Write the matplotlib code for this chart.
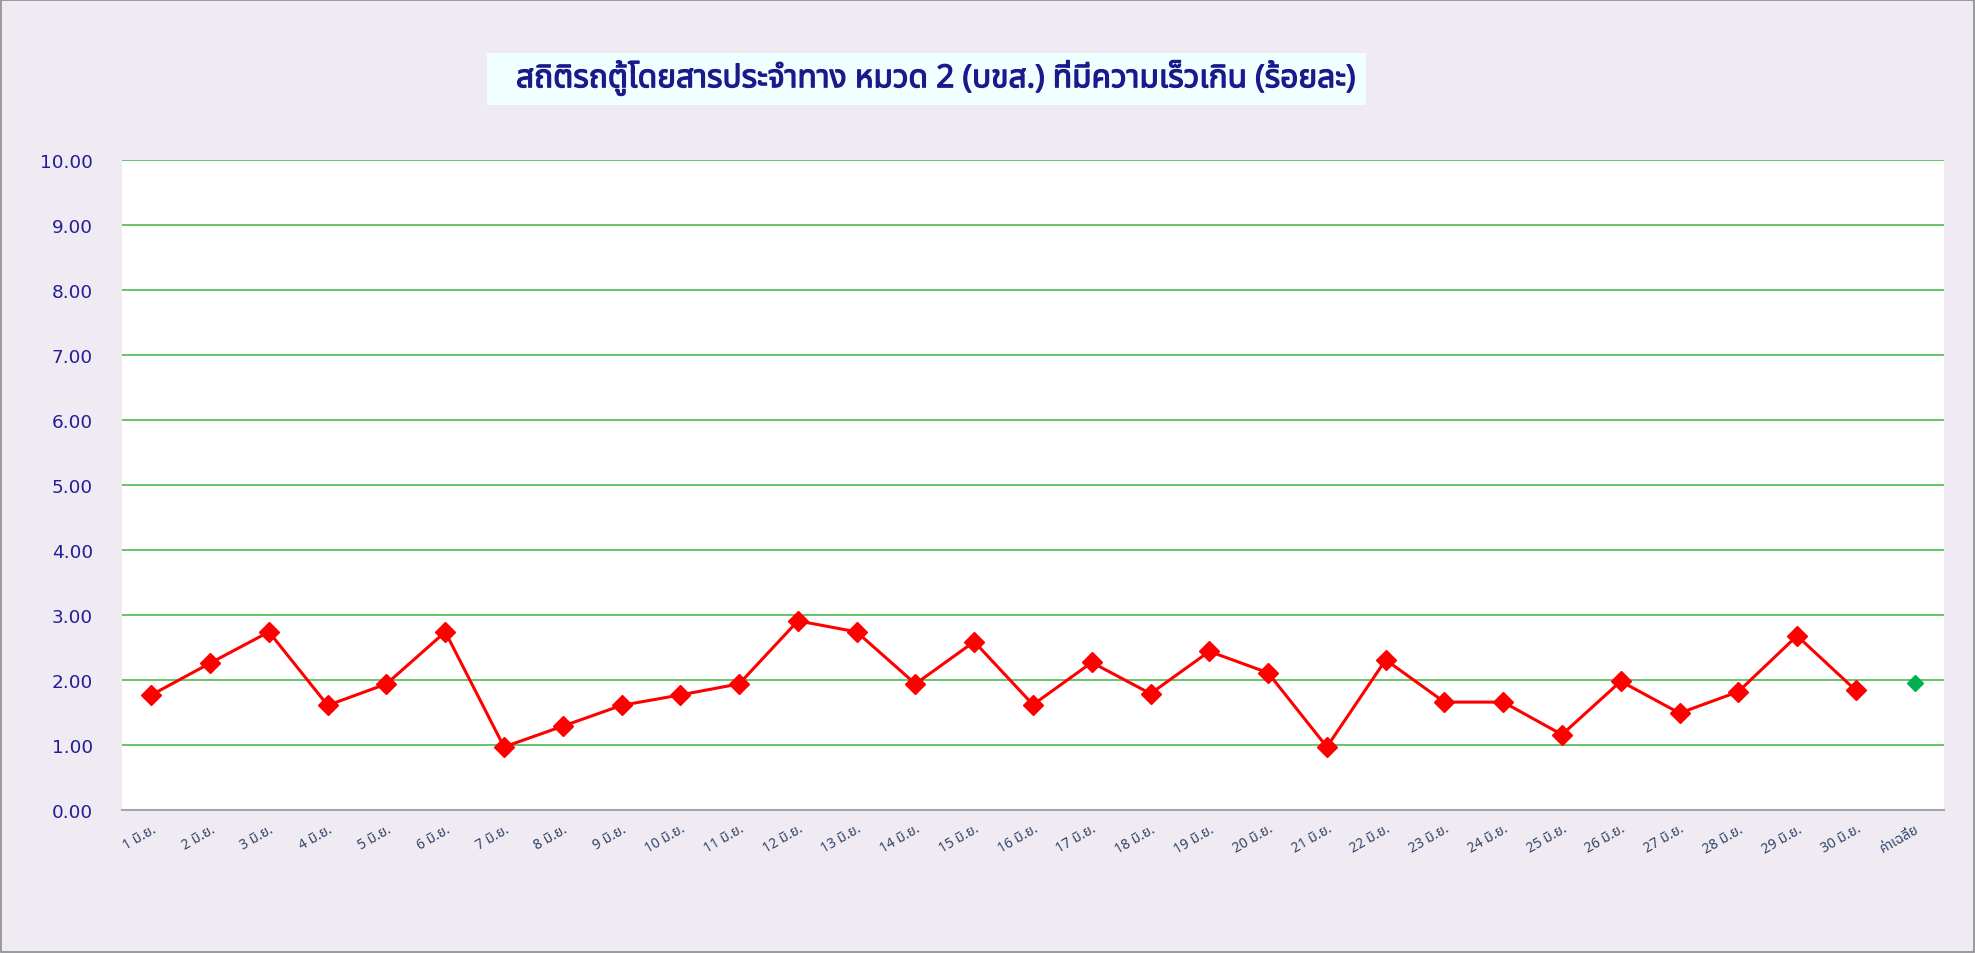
import matplotlib
matplotlib.use("Agg")
import matplotlib.pyplot as plt
import matplotlib.patheffects as pe
from matplotlib import font_manager
from matplotlib.ft2font import FT2Font
from matplotlib.patches import Rectangle

# ---- data -------------------------------------------------------------
days = [f"{d} มิ.ย." for d in range(1, 31)]
avg_label = "ค่าเฉลี่ย"
speeding_pct = [1.77, 2.26, 2.74, 1.61, 1.94, 2.74, 0.97, 1.29, 1.61, 1.77,
                1.94, 2.91, 2.74, 1.94, 2.59, 1.62, 2.27, 1.79, 2.44, 2.11,
                0.97, 2.31, 1.66, 1.66, 1.16, 1.98, 1.49, 1.82, 2.68, 1.84]
avg_pct = 1.95
y_ticks = [0, 1, 2, 3, 4, 5, 6, 7, 8, 9, 10]
title = "สถิติรถตู้โดยสารประจำทาง หมวด 2 (บขส.) ที่มีความเร็วเกิน (ร้อยละ)"


def thai_capable_font():
    preferred = ["Noto Sans Thai", "Noto Sans Thai UI", "Loma", "Tlwg Typo",
                 "Garuda", "Waree", "Umpush", "Kinnari", "Norasi", "Sawasdee",
                 "Noto Sans", "Noto Serif Thai"]
    found = {}
    for fe in font_manager.fontManager.ttflist:
        try:
            cmap = FT2Font(fe.fname).get_charmap()
        except Exception:
            continue
        if 0x0E01 in cmap and 0x0E34 in cmap:
            found.setdefault(fe.name, fe.fname)
    for name in preferred:
        if name in found:
            return name
    return next(iter(found), None)


thai = thai_capable_font()
thai_family = [thai, "DejaVu Sans"] if thai else ["DejaVu Sans"]

BG = "#F0EBF3"
W, H = 1975, 954
fig = plt.figure(figsize=(W / 100, H / 100), dpi=100, facecolor=BG)

# outer frame
fig.patches.append(Rectangle((0.0005, 0.001), 0.999, 0.998, transform=fig.transFigure,
                             fill=False, edgecolor="#8C8C8C", linewidth=1.2))

left, right, top, bottom = 122, 1944, 161, 811
ax = fig.add_axes([left / W, 1 - bottom / H, (right - left) / W, (bottom - top) / H])
ax.set_facecolor("white")

n = len(days)
x = list(range(n))
ax.plot(x, speeding_pct, color="#FF0000", linewidth=2.2, marker="D",
        markersize=10, markerfacecolor="#FF0000", markeredgecolor="#FF0000", zorder=3)
ax.plot([n], [avg_pct], linestyle="none", marker="D", markersize=8,
        color="#00B050", zorder=3)

ax.set_xlim(-0.5, n + 0.5)
ax.set_ylim(0, 10)
ax.set_yticks(y_ticks)
ax.set_yticklabels([f"{v:.2f}" for v in y_ticks], family="DejaVu Sans",
                   fontsize=13.3, color="#231E96")
ax.tick_params(axis="y", length=0, pad=21)
ax.grid(axis="y", color="#5CBF5C", linewidth=1.3)
ax.set_axisbelow(True)

ax.set_xticks(list(range(n + 1)))
ax.set_xticklabels(days + [avg_label], rotation=30, ha="right",
                   rotation_mode="anchor", fontsize=10, color="#2E4468",
                   family=thai_family)
ax.tick_params(axis="x", length=0, pad=8)

for side in ("left", "right", "top"):
    ax.spines[side].set_visible(False)
ax.spines["bottom"].set_color("#A6A6A6")
ax.spines["bottom"].set_linewidth(1.5)

# title banner
fig.patches.append(Rectangle((487 / W, 1 - 106 / H), (1366 - 487) / W, 52 / H,
                             transform=fig.transFigure, facecolor="#F0FFFF",
                             edgecolor="none"))
fig.text((510 + 1362) / 2 / W, 1 - 79 / H, title, ha="center", va="center",
         fontsize=22.8, fontweight="bold", color="#1A1A8C", family=thai_family,
         path_effects=[pe.withStroke(linewidth=0.9, foreground="#1A1A8C")])

fig.savefig("out.png", dpi=100, facecolor=BG)
